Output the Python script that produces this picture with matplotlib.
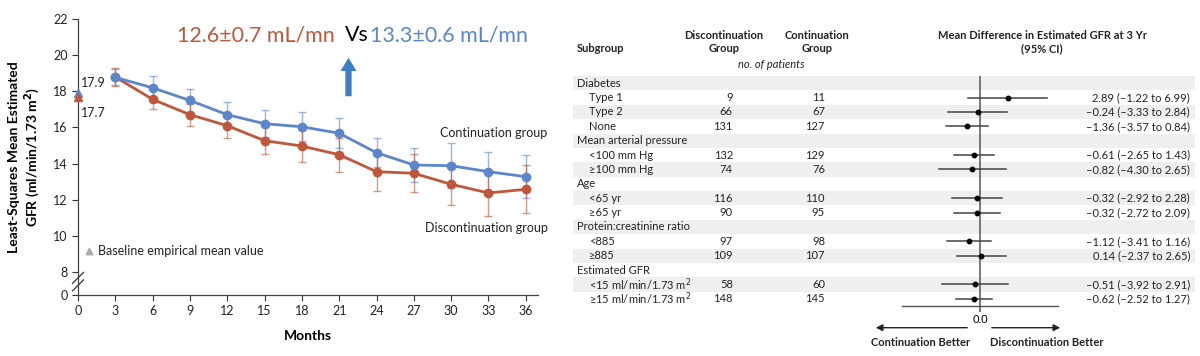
import numpy as np
import matplotlib
matplotlib.use("Agg")
import matplotlib.pyplot as plt
from matplotlib.patches import FancyArrowPatch

plt.rcParams['font.family'] = ['Lato', 'DejaVu Sans']

# ---- left panel: eGFR over time ----
months = [3, 6, 9, 12, 15, 18, 21, 24, 27, 30, 33, 36]
cont_mean = [18.78, 18.2, 17.5, 16.71, 16.21, 16.04, 15.68, 14.6, 13.92, 13.88, 13.55, 13.27]
cont_err = [0.45, 0.65, 0.62, 0.7, 0.76, 0.8, 0.82, 0.8, 0.96, 1.24, 1.07, 1.2]
disc_mean = [18.8, 17.56, 16.71, 16.1, 15.27, 14.97, 14.49, 13.55, 13.46, 12.85, 12.37, 12.57]
disc_err = [0.5, 0.55, 0.6, 0.68, 0.73, 0.87, 0.94, 1.06, 1.05, 1.17, 1.28, 1.33]
baseline_cont = 17.9
baseline_disc = 17.7
y_ticks = [8, 10, 12, 14, 16, 18, 20, 22]

# ---- right panel: subgroup forest plot ----
rows = ['Diabetes', 'Type 1', 'Type 2', 'None', 'Mean arterial pressure',
        '<100 mm Hg', '\u2265100 mm Hg', 'Age', '<65 yr', '\u226565 yr',
        'Protein:creatinine ratio', '<885', '\u2265885', 'Estimated GFR',
        '<15 ml/min/1.73 m$^2$', '\u226515 ml/min/1.73 m$^2$']
is_header = [True, False, False, False, True, False, False, True, False, False,
             True, False, False, True, False, False]
n_disc = [None, 9, 66, 131, None, 132, 74, None, 116, 90, None, 97, 109, None, 58, 148]
n_cont = [None, 11, 67, 127, None, 129, 76, None, 110, 95, None, 98, 107, None, 60, 145]
diff = [None, 2.89, -0.24, -1.36, None, -0.61, -0.82, None, -0.32, -0.32,
        None, -1.12, 0.14, None, -0.51, -0.62]
ci_lo = [None, -1.22, -3.33, -3.57, None, -2.65, -4.30, None, -2.92, -2.72,
         None, -3.41, -2.37, None, -3.92, -2.52]
ci_hi = [None, 6.99, 2.84, 0.84, None, 1.43, 2.65, None, 2.28, 2.09,
         None, 1.16, 2.65, None, 2.91, 1.27]

RED = '#C0573A'
BLUE = '#5B86CC'
TXT = '#222222'
W, H = 1200, 356


def fx(px):
    return px / W


def fy(py):
    return 1 - py / H


def main():
    fig = plt.figure(figsize=(12, 3.56), dpi=100)

    # left chart
    ax = fig.add_axes([fx(78), fy(295), fx(537.7) - fx(78), fy(19.3) - fy(295)])
    ax.errorbar(months, cont_mean, yerr=cont_err, fmt='none', ecolor=BLUE,
                elinewidth=1, capsize=3, alpha=0.6, zorder=2)
    ax.errorbar(months, disc_mean, yerr=disc_err, fmt='none', ecolor=RED,
                elinewidth=1, capsize=3, alpha=0.6, zorder=2)
    ax.plot(months, disc_mean, color=RED, lw=2, marker='o', ms=6, zorder=3)
    ax.plot(months, cont_mean, color=BLUE, lw=2, marker='o', ms=6, zorder=4)
    ax.plot([0], [baseline_cont], marker='^', color=BLUE, ms=6, clip_on=False, zorder=5)
    ax.plot([0], [baseline_disc], marker='^', color=RED, ms=6, clip_on=False, zorder=5)

    y0 = 6.71
    ax.set_xlim(0, 36.96)
    ax.set_ylim(y0, 22)
    ax.set_xticks(range(0, 37, 3))
    ax.set_yticks([y0] + y_ticks)
    ax.set_yticklabels(['0'] + [str(t) for t in y_ticks])
    ax.tick_params(labelsize=9, length=4, width=0.8, color='#333333', labelcolor=TXT)
    for s in ['top', 'right']:
        ax.spines[s].set_visible(False)
    for s in ['left', 'bottom']:
        ax.spines[s].set_color('#444444')
        ax.spines[s].set_linewidth(0.9)

    # axis break marks
    for dy in (0.035, 0.062):
        ax.plot([-0.012, 0.012], [dy - 0.02, dy + 0.02], transform=ax.transAxes,
                color='#333333', lw=0.9, clip_on=False)

    ax.set_ylabel('Least-Squares Mean Estimated\nGFR (ml/min/1.73 m$^\\mathbf{2}$)',
                  fontsize=10, fontweight='bold', labelpad=8, linespacing=1.15)
    ax.set_xlabel('Months', fontsize=10, fontweight='bold', labelpad=9)

    ax.text(0.25, 18.47, '17.9', fontsize=9, va='center', color=TXT)
    ax.text(0.25, 16.82, '17.7', fontsize=9, va='center', color=TXT)
    ax.text(1.0 + 10 / 460, 15.71, 'Continuation group', transform=ax.get_yaxis_transform(),
            fontsize=9, ha='right', va='center', color=TXT)
    ax.text(1.0 + 10 / 460, 10.44, 'Discontinuation group', transform=ax.get_yaxis_transform(),
            fontsize=9, ha='right', va='center', color=TXT)
    ax.scatter([0.023], [0.161], marker='^', s=22, color='#AAAAAA',
               transform=ax.transAxes, clip_on=False)
    ax.text(0.043, 0.161, 'Baseline empirical mean value', transform=ax.transAxes,
            fontsize=9, va='center', color=TXT)

    # headline comparison
    fig.text(fx(177), fy(35), '12.6\u00b10.7 mL/mn', color=RED, fontsize=15.4, va='center')
    fig.text(fx(345), fy(35), 'Vs', color='black', fontsize=15.4, va='center')
    fig.text(fx(370), fy(35), '13.3\u00b10.6 mL/mn', color=BLUE, fontsize=15.4, va='center')
    fig.add_artist(FancyArrowPatch(
        (fx(348.5), fy(99)), (fx(348.5), fy(55)),
        arrowstyle='simple,head_length=0.95,head_width=1.15,tail_width=0.45',
        mutation_scale=10, color='#3C7DC4', lw=0, transform=fig.transFigure))

    # right table background
    tab = fig.add_axes([fx(573), fy(306), fx(1195) - fx(573), fy(76) - fy(306)])
    tab.set_xlim(0, 1)
    tab.set_ylim(len(rows) - 0.5, -0.5)
    tab.axis('off')
    for i in range(len(rows)):
        if i % 2 == 0:
            tab.axhspan(i - 0.5, i + 0.5, color='#EFEFEF', lw=0, zorder=0)
        xl = 0.0064 if is_header[i] else 0.0257
        tab.text(xl, i, rows[i], fontsize=8, va='center', color=TXT)
        if n_disc[i] is not None:
            tab.text(0.257, i, str(n_disc[i]), fontsize=8, va='center', ha='right', color=TXT)
            tab.text(0.405, i, str(n_cont[i]), fontsize=8, va='center', ha='right', color=TXT)
            s = '%.2f (%.2f to %.2f)' % (diff[i], ci_lo[i], ci_hi[i])
            s = s.replace('-', '\u2013')
            tab.text(0.992, i, s, fontsize=8, va='center', ha='right', color=TXT)

    fa = fig.add_axes([fx(902), fy(306), fx(1058) - fx(902), fy(76) - fy(306)])
    fa.patch.set_alpha(0)
    fa.set_xlim(-8.1, 8.1)
    fa.set_ylim(len(rows) - 0.5, -0.5)
    for i in range(len(rows)):
        if diff[i] is None:
            continue
        fa.plot([ci_lo[i], ci_hi[i]], [i, i], color='#444444', lw=1.1)
        fa.plot([diff[i]], [i], 'o', color='black', ms=3.2)
    fa.axvline(0, color='#555555', lw=1.1, zorder=0)
    for s in ['top', 'right', 'left']:
        fa.spines[s].set_visible(False)
    fa.spines['bottom'].set_color('#555555')
    fa.spines['bottom'].set_linewidth(1.0)
    fa.set_yticks([])
    fa.set_xticks([0])
    fa.set_xticklabels(['0.0'])
    fa.tick_params(axis='x', length=4, width=1.1, color='#555555', labelsize=8, pad=1.5)

    # headers
    fig.text(fx(577), fy(49), 'Subgroup', fontsize=8, fontweight='bold', va='center', color=TXT)
    fig.text(fx(724), fy(42), 'Discontinuation\nGroup', fontsize=8, fontweight='bold',
             va='center', ha='center', linespacing=1.2, color=TXT)
    fig.text(fx(817), fy(42), 'Continuation\nGroup', fontsize=8, fontweight='bold',
             va='center', ha='center', linespacing=1.2, color=TXT)
    fig.text(fx(771), fy(64), 'no. of patients', fontsize=8, style='italic',
             va='center', ha='center', color=TXT)
    fig.text(fx(1042), fy(42), 'Mean Difference in Estimated GFR at 3 Yr\n(95% CI)', fontsize=8,
             fontweight='bold', va='center', ha='center', linespacing=1.3, color=TXT)

    # direction arrows
    fig.add_artist(FancyArrowPatch(
        (fx(970), fy(327.7)), (fx(873), fy(327.7)), arrowstyle='-|>,head_length=4,head_width=2',
        color=TXT, lw=1, transform=fig.transFigure))
    fig.add_artist(FancyArrowPatch(
        (fx(989), fy(327.7)), (fx(1063), fy(327.7)), arrowstyle='-|>,head_length=4,head_width=2',
        color=TXT, lw=1, transform=fig.transFigure))
    fig.text(fx(921), fy(342), 'Continuation Better', fontsize=8, fontweight='bold',
             ha='center', va='center', color=TXT)
    fig.text(fx(990), fy(342), 'Discontinuation Better', fontsize=8, fontweight='bold',
             ha='left', va='center', color=TXT)

    fig.savefig('out.png', dpi=100)


if __name__ == "__main__":
    main()
